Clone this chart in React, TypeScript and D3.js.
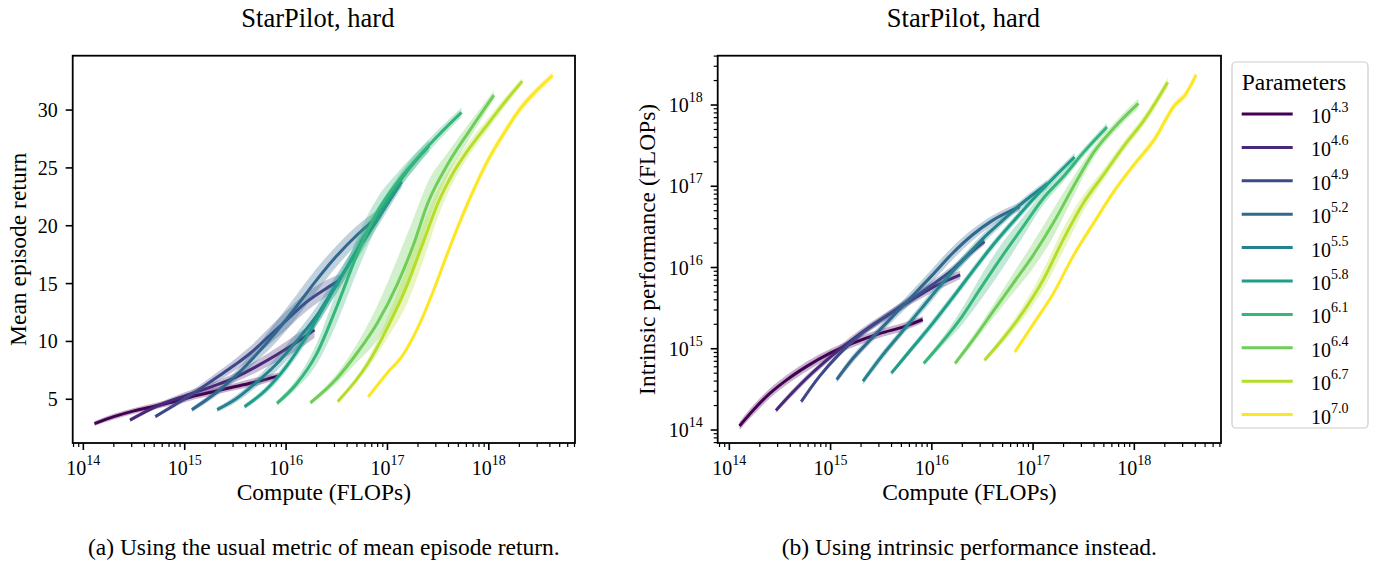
import React from "react";
import * as d3 from "d3";

// ---------- data ----------
const PARAM_EXPONENTS = ["4.3", "4.6", "4.9", "5.2", "5.5", "5.8", "6.1", "6.4", "6.7", "7.0"];
const COMPUTE_TICK_EXPONENTS = [14, 15, 16, 17, 18];
const RETURN_TICKS = [5, 10, 15, 20, 25, 30];
const INTRINSIC_TICK_EXPONENTS = [14, 15, 16, 17, 18];
const TITLE = "StarPilot, hard";

// [log10 compute, mean episode return, band half-width]
const ret43 = [[14.11, 2.9, 0.2], [14.3, 3.5, 0.25], [14.5, 4.0, 0.25], [14.7, 4.4, 0.25], [14.9, 4.8, 0.3], [15.1, 5.3, 0.3], [15.3, 5.7, 0.3], [15.5, 6.1, 0.3], [15.7, 6.5, 0.35], [15.92, 7.0, 0.3]];
const ret46 = [[14.46, 3.2, 0.15], [14.7, 4.3, 0.2], [15.0, 5.3, 0.3], [15.3, 6.2, 0.35], [15.5, 6.9, 0.4], [15.7, 7.8, 0.5], [15.9, 8.8, 0.6], [16.1, 9.9, 0.7], [16.28, 11.0, 0.7]];
const ret49 = [[14.71, 3.5, 0.15], [14.9, 4.5, 0.2], [15.1, 5.6, 0.3], [15.3, 6.8, 0.4], [15.5, 8.0, 0.5], [15.65, 9.0, 0.6], [15.8, 10.2, 0.7], [16.0, 11.8, 0.8], [16.2, 13.4, 0.8], [16.4, 14.6, 0.7], [16.53, 15.3, 0.5]];
const ret52 = [[15.07, 4.1, 0.2], [15.3, 5.5, 0.3], [15.5, 7.0, 0.4], [15.7, 8.8, 0.6], [15.9, 10.8, 0.9], [16.1, 13.0, 1.0], [16.3, 15.3, 1.0], [16.5, 17.4, 0.9], [16.7, 19.2, 0.8], [16.88, 20.6, 0.6]];
const ret55 = [[15.32, 4.1, 0.2], [15.5, 5.0, 0.3], [15.7, 6.4, 0.4], [15.9, 8.0, 0.6], [16.1, 10.0, 0.7], [16.3, 12.2, 0.8], [16.5, 15.0, 0.8], [16.7, 17.8, 0.7], [16.9, 20.5, 0.6], [17.14, 23.8, 0.5]];
const ret58 = [[15.59, 4.36, 0.2], [15.8, 5.8, 0.3], [16.0, 7.8, 0.4], [16.2, 10.4, 0.5], [16.4, 13.4, 0.6], [16.6, 16.4, 0.7], [16.8, 19.5, 0.7], [17.0, 22.3, 0.6], [17.2, 24.8, 0.6], [17.41, 26.9, 0.5]];
const ret61 = [[15.91, 4.65, 0.2], [16.1, 6.3, 0.4], [16.3, 8.9, 0.9], [16.5, 13.0, 1.4], [16.7, 17.5, 1.5], [16.9, 21.2, 1.2], [17.1, 23.8, 0.8], [17.3, 25.9, 0.6], [17.5, 27.8, 0.5], [17.73, 29.8, 0.4]];
const ret64 = [[16.24, 4.7, 0.2], [16.5, 6.8, 0.4], [16.7, 9.0, 0.8], [16.9, 11.6, 1.5], [17.1, 15.0, 2.2], [17.25, 18.2, 2.3], [17.4, 22.0, 1.8], [17.6, 25.4, 1.0], [17.8, 28.1, 0.7], [18.05, 31.3, 0.4]];
const ret67 = [[16.51, 4.8, 0.2], [16.8, 8.0, 0.4], [17.0, 11.2, 0.9], [17.2, 15.0, 1.6], [17.35, 18.5, 1.6], [17.5, 22.0, 1.2], [17.65, 24.6, 0.8], [17.8, 26.6, 0.6], [18.0, 28.9, 0.5], [18.15, 30.6, 0.4], [18.33, 32.5, 0.3]];
const ret70 = [[16.81, 5.2, 0.15], [17.0, 7.3, 0.2], [17.15, 8.8, 0.2], [17.3, 11.2, 0.25], [17.45, 14.3, 0.3], [17.6, 17.8, 0.35], [17.8, 22.1, 0.4], [18.0, 25.8, 0.4], [18.15, 28.0, 0.4], [18.3, 30.0, 0.35], [18.45, 31.5, 0.35], [18.63, 33.0, 0.3]];

// [log10 compute, log10 intrinsic performance, band half-width (log10)]
const int43 = [[14.1, 14.05, 0.05], [14.24, 14.25, 0.06], [14.4, 14.45, 0.06], [14.57, 14.62, 0.06], [14.76, 14.78, 0.06], [15.0, 14.95, 0.05], [15.22, 15.07, 0.05], [15.49, 15.19, 0.05], [15.72, 15.27, 0.05], [15.91, 15.36, 0.04]];
const int46 = [[14.46, 14.24, 0.03], [14.6, 14.43, 0.04], [14.8, 14.68, 0.04], [15.0, 14.9, 0.04], [15.2, 15.1, 0.05], [15.4, 15.28, 0.05], [15.6, 15.44, 0.05], [15.8, 15.6, 0.05], [16.0, 15.75, 0.06], [16.15, 15.84, 0.06], [16.28, 15.91, 0.05]];
const int49 = [[14.71, 14.35, 0.03], [14.89, 14.66, 0.03], [15.09, 14.94, 0.03], [15.29, 15.17, 0.04], [15.49, 15.35, 0.04], [15.69, 15.52, 0.05], [15.95, 15.74, 0.05], [16.21, 15.98, 0.05], [16.4, 16.2, 0.05], [16.52, 16.32, 0.04]];
const int52 = [[15.06, 14.62, 0.04], [15.2, 14.85, 0.05], [15.4, 15.12, 0.05], [15.6, 15.38, 0.06], [15.8, 15.64, 0.07], [16.0, 15.9, 0.08], [16.2, 16.17, 0.08], [16.4, 16.4, 0.07], [16.6, 16.58, 0.06], [16.87, 16.75, 0.05]];
const int55 = [[15.32, 14.6, 0.04], [15.5, 14.9, 0.05], [15.7, 15.2, 0.05], [15.9, 15.5, 0.06], [16.1, 15.8, 0.06], [16.3, 16.08, 0.06], [16.5, 16.35, 0.06], [16.7, 16.58, 0.05], [16.9, 16.8, 0.05], [17.14, 17.03, 0.05]];
const int58 = [[15.6, 14.7, 0.03], [15.8, 15.0, 0.04], [16.0, 15.3, 0.05], [16.2, 15.62, 0.05], [16.4, 15.95, 0.05], [16.6, 16.27, 0.05], [16.8, 16.56, 0.05], [17.0, 16.84, 0.05], [17.2, 17.1, 0.05], [17.41, 17.36, 0.05]];
const int61 = [[15.92, 14.82, 0.03], [16.1, 15.08, 0.05], [16.3, 15.4, 0.1], [16.5, 15.78, 0.15], [16.7, 16.15, 0.16], [16.9, 16.5, 0.12], [17.1, 16.85, 0.08], [17.3, 17.12, 0.06], [17.5, 17.42, 0.05], [17.73, 17.73, 0.05]];
const int64 = [[16.23, 14.82, 0.03], [16.4, 15.1, 0.05], [16.6, 15.45, 0.08], [16.8, 15.8, 0.12], [17.0, 16.15, 0.16], [17.2, 16.55, 0.17], [17.4, 17.0, 0.12], [17.6, 17.42, 0.07], [17.8, 17.72, 0.06], [18.04, 18.02, 0.06]];
const int67 = [[16.52, 14.86, 0.03], [16.7, 15.12, 0.05], [16.9, 15.45, 0.08], [17.1, 15.85, 0.12], [17.3, 16.35, 0.14], [17.5, 16.8, 0.1], [17.7, 17.15, 0.07], [17.9, 17.5, 0.06], [18.1, 17.82, 0.06], [18.33, 18.28, 0.06]];
const int70 = [[16.82, 14.96, 0.03], [17.0, 15.3, 0.03], [17.2, 15.68, 0.03], [17.4, 16.15, 0.03], [17.6, 16.55, 0.04], [17.8, 16.94, 0.04], [18.0, 17.27, 0.04], [18.2, 17.58, 0.05], [18.4, 18.0, 0.05], [18.5, 18.12, 0.05], [18.61, 18.37, 0.05]];

const RETURN_SERIES = [ret43, ret46, ret49, ret52, ret55, ret58, ret61, ret64, ret67, ret70];
const INTRINSIC_SERIES = [int43, int46, int49, int52, int55, int58, int61, int64, int67, int70];

// ---------- layout ----------
const W = 1378;
const H = 563;
const FONT = "'Liberation Serif', 'Times New Roman', serif";
const TOP = 55.7;
const BOTTOM = 443;
const LEFT_AX = { x0: 72.7, x1: 575 };
const RIGHT_AX = { x0: 717.7, x1: 1221 };
const colors = PARAM_EXPONENTS.map((_, i) => d3.interpolateViridis(i / 9));

const leftX = d3.scaleLog().domain([10 ** 13.895, 10 ** 18.85]).range([LEFT_AX.x0, LEFT_AX.x1]);
const leftY = d3.scaleLinear().domain([1.22, 34.7]).range([BOTTOM, TOP]);
const rightX = d3.scaleLog().domain([10 ** 13.885, 10 ** 18.856]).range([RIGHT_AX.x0, RIGHT_AX.x1]);
const rightY = d3.scaleLog().domain([10 ** 13.84, 10 ** 18.607]).range([BOTTOM, TOP]);

function minorLogTicks(scale: any) {
  const [a, b] = scale.domain();
  const out: number[] = [];
  for (let e = Math.floor(Math.log10(a)); e <= Math.ceil(Math.log10(b)); e++) {
    for (let m = 2; m <= 9; m++) {
      const v = m * 10 ** e;
      if (v >= a && v <= b) out.push(v);
    }
  }
  return out;
}

function Pow({ x, y, base, exp, anchor, size = 20, sup = 14, raise = 10 }: any) {
  return (
    <text x={x} y={y} textAnchor={anchor} fontSize={size} fontFamily={FONT} fill="#000">
      {base}
      <tspan dy={-raise} fontSize={sup}>{exp}</tspan>
    </text>
  );
}

function Panel({ id, ax, xs, ys, series, logY, yLabel, caption }: any) {
  const clipId = `clip-${id}`;
  const cx = (ax.x0 + ax.x1) / 2;
  const toY = (v: number) => (logY ? 10 ** v : v);
  const lineGen = d3
    .line<any>()
    .x((d) => xs(10 ** d[0]))
    .y((d) => ys(toY(d[1])))
    .curve(d3.curveMonotoneX);
  const areaGen = d3
    .area<any>()
    .x((d) => xs(10 ** d[0]))
    .y0((d) => ys(toY(d[1] - d[2])))
    .y1((d) => ys(toY(d[1] + d[2])))
    .curve(d3.curveMonotoneX);

  const minorX = minorLogTicks(xs);
  return (
    <g>
      <defs>
        <clipPath id={clipId}>
          <rect x={ax.x0} y={TOP} width={ax.x1 - ax.x0} height={BOTTOM - TOP} />
        </clipPath>
      </defs>
      <text x={cx - 6} y={27} textAnchor="middle" fontSize={26.5} fontFamily={FONT}>{TITLE}</text>
      <g clipPath={`url(#${clipId})`}>
        {series.map((s: any, i: number) => (
          <g key={i}>
            <path d={areaGen(s) || ""} fill={colors[i]} opacity={0.3} stroke="none" />
            <path d={lineGen(s) || ""} fill="none" stroke={colors[i]} strokeWidth={3} strokeLinecap="butt" />
          </g>
        ))}
      </g>
      {/* x ticks */}
      {minorX.map((v: number, i: number) => (
        <line key={`mx${i}`} x1={xs(v)} x2={xs(v)} y1={BOTTOM} y2={BOTTOM + 4} stroke="#000" strokeWidth={1.2} />
      ))}
      {COMPUTE_TICK_EXPONENTS.map((e) => (
        <g key={`x${e}`}>
          <line x1={xs(10 ** e)} x2={xs(10 ** e)} y1={BOTTOM} y2={BOTTOM + 7} stroke="#000" strokeWidth={1.6} />
          <Pow x={xs(10 ** e)} y={475} base="10" exp={String(e)} anchor="middle" />
        </g>
      ))}
      {/* y ticks */}
      {logY ? (
        <g>
          {minorLogTicks(ys).map((v: number, i: number) => (
            <line key={`my${i}`} x1={ax.x0 - 4} x2={ax.x0} y1={ys(v)} y2={ys(v)} stroke="#000" strokeWidth={1.2} />
          ))}
          {INTRINSIC_TICK_EXPONENTS.map((e) => (
            <g key={`y${e}`}>
              <line x1={ax.x0 - 7} x2={ax.x0} y1={ys(10 ** e)} y2={ys(10 ** e)} stroke="#000" strokeWidth={1.6} />
              <Pow x={ax.x0 - 15} y={ys(10 ** e) + 7} base="10" exp={String(e)} anchor="end" />
            </g>
          ))}
        </g>
      ) : (
        <g>
          {RETURN_TICKS.map((t) => (
            <g key={`y${t}`}>
              <line x1={ax.x0 - 7} x2={ax.x0} y1={ys(t)} y2={ys(t)} stroke="#000" strokeWidth={1.6} />
              <text x={ax.x0 - 15} y={ys(t) + 7} textAnchor="end" fontSize={20} fontFamily={FONT}>{t}</text>
            </g>
          ))}
        </g>
      )}
      <rect x={ax.x0} y={TOP} width={ax.x1 - ax.x0} height={BOTTOM - TOP} fill="none" stroke="#000" strokeWidth={1.8} />
      <text x={cx} y={500} textAnchor="middle" fontSize={23.5} fontFamily={FONT}>Compute (FLOPs)</text>
      <text
        transform={`translate(${logY ? ax.x0 - 63 : ax.x0 - 47},${(TOP + BOTTOM) / 2}) rotate(-90)`}
        textAnchor="middle"
        fontSize={23.5}
        fontFamily={FONT}
      >
        {yLabel}
      </text>
      <text x={cx} y={555} textAnchor="middle" fontSize={23.5} fontFamily={FONT}>{caption}</text>
    </g>
  );
}

function Legend() {
  const x0 = 1232;
  const y0 = 62;
  return (
    <g>
      <rect x={x0} y={y0} width={136} height={366} rx={4} fill="#fff" fillOpacity={0.8} stroke="#cccccc" strokeWidth={1.2} />
      <text x={1241.7} y={89.5} fontSize={23.5} fontFamily={FONT}>Parameters</text>
      {PARAM_EXPONENTS.map((p, i) => {
        const y = 114 + i * 33.4;
        return (
          <g key={p}>
            <line x1={1241.7} x2={1292.7} y1={y} y2={y} stroke={colors[i]} strokeWidth={3} />
            <Pow x={1311} y={y + 9} base="10" exp={p} anchor="start" raise={11} />
          </g>
        );
      })}
    </g>
  );
}

export default function App() {
  return (
    <svg width={W} height={H} style={{ position: "absolute", left: 0, top: 0, background: "#fff" }}>
      <rect x={0} y={0} width={W} height={H} fill="#fff" />
      <Panel
        id="a"
        ax={LEFT_AX}
        xs={leftX}
        ys={leftY}
        series={RETURN_SERIES}
        logY={false}
        yLabel="Mean episode return"
        caption="(a) Using the usual metric of mean episode return."
      />
      <Panel
        id="b"
        ax={RIGHT_AX}
        xs={rightX}
        ys={rightY}
        series={INTRINSIC_SERIES}
        logY={true}
        yLabel="Intrinsic performance (FLOPs)"
        caption="(b) Using intrinsic performance instead."
      />
      <Legend />
    </svg>
  );
}
